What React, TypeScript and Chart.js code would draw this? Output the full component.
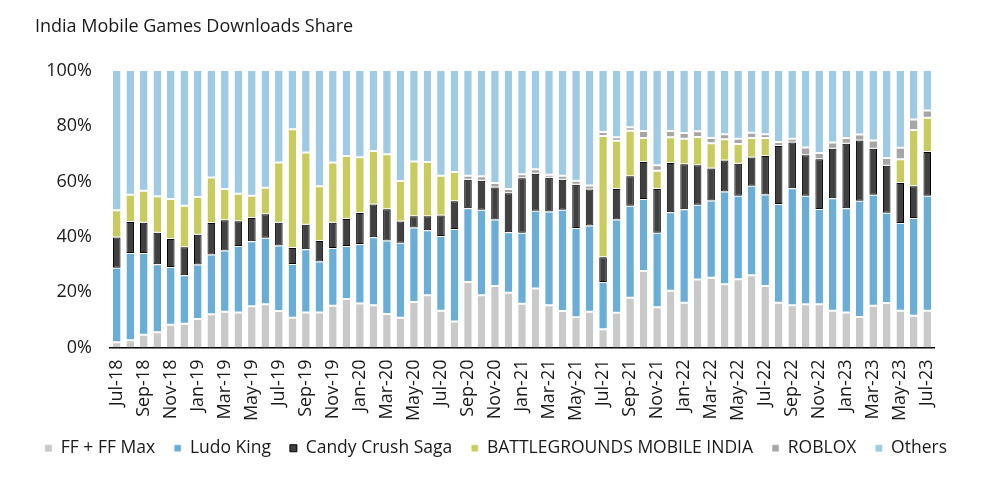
import React, { useEffect, useRef } from "react";
import { Chart, registerables } from "chart.js";
Chart.register(...registerables);

const months = [
  "Jul-18", "Aug-18", "Sep-18", "Oct-18", "Nov-18", "Dec-18",
  "Jan-19", "Feb-19", "Mar-19", "Apr-19", "May-19", "Jun-19", "Jul-19", "Aug-19", "Sep-19", "Oct-19", "Nov-19", "Dec-19",
  "Jan-20", "Feb-20", "Mar-20", "Apr-20", "May-20", "Jun-20", "Jul-20", "Aug-20", "Sep-20", "Oct-20", "Nov-20", "Dec-20",
  "Jan-21", "Feb-21", "Mar-21", "Apr-21", "May-21", "Jun-21", "Jul-21", "Aug-21", "Sep-21", "Oct-21", "Nov-21", "Dec-21",
  "Jan-22", "Feb-22", "Mar-22", "Apr-22", "May-22", "Jun-22", "Jul-22", "Aug-22", "Sep-22", "Oct-22", "Nov-22", "Dec-22",
  "Jan-23", "Feb-23", "Mar-23", "Apr-23", "May-23", "Jun-23", "Jul-23",
];

const ffShare = [
  1.9, 2.6, 4.6, 5.5, 8.2, 8.6,
  10.3, 12.0, 12.9, 12.7, 14.9, 15.6, 13.2, 10.8, 12.7, 12.7, 15.1, 17.5,
  15.9, 15.3, 12.1, 10.8, 16.5, 18.9, 13.3, 9.4, 23.7, 18.9, 22.2, 19.8,
  15.8, 21.3, 15.3, 13.2, 10.9, 12.9, 6.6, 12.6, 18.0, 27.7, 14.6, 20.5,
  16.2, 24.6, 25.2, 22.9, 24.7, 26.1, 22.2, 16.2, 15.3, 15.6, 15.6, 13.3,
  12.7, 11.0, 15.1, 16.1, 13.3, 11.5, 13.3,
];

const ludoShare = [
  26.9, 31.6, 29.6, 24.6, 20.9, 17.5,
  19.7, 21.6, 22.2, 24.0, 23.5, 24.1, 23.7, 19.4, 22.8, 18.4, 20.9, 19.2,
  21.5, 24.6, 26.6, 27.1, 26.9, 23.5, 27.0, 33.5, 26.7, 30.9, 24.1, 21.9,
  25.7, 28.2, 33.9, 36.6, 32.3, 31.2, 17.1, 33.7, 33.3, 26.0, 26.9, 28.4,
  33.8, 27.0, 28.0, 33.5, 30.2, 32.4, 33.1, 35.7, 42.3, 39.3, 34.5, 40.7,
  37.7, 42.1, 40.1, 32.6, 31.7, 35.3, 41.6,
];

const candyShare = [
  11.0, 11.2, 10.9, 11.4, 10.1, 10.2,
  10.8, 11.4, 10.9, 9.0, 8.4, 8.5, 8.2, 5.8, 8.9, 7.4, 9.1, 9.8,
  11.2, 11.8, 11.3, 7.7, 4.1, 5.1, 7.4, 10.0, 10.3, 10.5, 11.6, 14.1,
  19.7, 13.3, 12.2, 10.9, 15.7, 13.0, 8.9, 11.0, 10.6, 13.4, 15.8, 17.8,
  16.3, 14.3, 11.5, 11.2, 11.6, 10.2, 14.0, 21.0, 16.5, 14.6, 18.0, 17.9,
  23.3, 21.8, 16.7, 17.0, 14.5, 11.5, 15.8,
];

const bgmiShare = [
  9.8, 9.8, 11.6, 13.2, 14.5, 15.0,
  13.6, 16.5, 11.3, 9.9, 8.1, 9.6, 21.8, 42.9, 26.1, 19.8, 21.8, 22.8,
  20.2, 19.4, 19.9, 14.6, 19.8, 19.6, 14.4, 10.6, 0, 0, 0, 0,
  0, 0, 0, 0, 0, 0, 43.9, 17.5, 16.5, 8.7, 6.6, 9.3,
  9.2, 10.2, 9.2, 7.7, 7.1, 7.1, 6.5, 0, 0, 0, 0, 0,
  0, 0, 0, 0, 8.6, 20.4, 12.4,
];

const robloxShare = [
  0, 0, 0, 0, 0, 0,
  0, 0, 0, 0, 0, 0, 0, 0, 0, 0, 0, 0,
  0, 0, 0, 0, 0, 0, 0, 0, 1.4, 1.6, 1.6, 1.5,
  1.5, 1.7, 1.1, 1.4, 1.4, 1.5, 1.4, 1.2, 1.3, 2.5, 2.0, 2.3,
  2.1, 2.1, 1.9, 1.8, 1.9, 1.9, 1.3, 1.4, 1.4, 2.8, 2.2, 2.2,
  2.1, 2.1, 3.0, 2.8, 4.1, 3.8, 2.6,
];

const othersShare = [
  50.4, 44.8, 43.3, 45.3, 46.3, 48.7,
  45.6, 38.5, 42.7, 44.4, 45.1, 42.2, 33.1, 21.1, 29.5, 41.7, 33.1, 30.7,
  31.2, 28.9, 30.1, 39.8, 32.7, 32.9, 37.9, 36.5, 37.9, 38.1, 40.5, 42.7,
  37.3, 35.5, 37.5, 37.9, 39.7, 41.4, 22.1, 24.0, 20.3, 21.7, 34.1, 21.7,
  22.4, 21.8, 24.2, 22.9, 24.5, 22.3, 22.9, 25.7, 24.5, 27.7, 29.7, 25.9,
  24.2, 23.0, 25.1, 31.5, 27.8, 17.5, 14.3,
];

const yTicks = [0, 20, 40, 60, 80, 100];

const TITLE = "India Mobile Games Downloads Share";
const FONT = "'Open Sans', 'Noto Sans', sans-serif";

export default function App() {
  const ref = useRef<HTMLCanvasElement>(null);

  useEffect(() => {
    const white = "#ffffff";
    const gap = { top: 1, bottom: 1, left: 0, right: 0 };
    const chart = new Chart(ref.current!, {
      type: "bar",
      data: {
        labels: months,
        datasets: [
          { label: "FF + FF Max", data: ffShare, backgroundColor: "#c9c9c9", borderColor: white, borderWidth: { top: 1, bottom: 0, left: 0, right: 0 }, borderSkipped: false },
          { label: "Ludo King", data: ludoShare, backgroundColor: "#6aaed8", borderColor: white, borderWidth: gap, borderSkipped: false },
          { label: "Candy Crush Saga", data: candyShare, backgroundColor: "#404040", borderColor: "#000000", borderWidth: 1, borderSkipped: false },
          { label: "BATTLEGROUNDS MOBILE INDIA", data: bgmiShare, backgroundColor: "#c8cc5e", borderColor: white, borderWidth: gap, borderSkipped: false },
          { label: "ROBLOX", data: robloxShare, backgroundColor: "#a6a6a6", borderColor: white, borderWidth: gap, borderSkipped: false },
          { label: "Others", data: othersShare, backgroundColor: "#9fcae3", borderColor: white, borderWidth: { top: 0, bottom: 1, left: 0, right: 0 }, borderSkipped: false },
        ] as any,
      },
      options: {
        animation: false,
        responsive: true,
        maintainAspectRatio: false,
        datasets: { bar: { barPercentage: 0.56, categoryPercentage: 1 } } as any,
        layout: { padding: { left: 11, right: 19, top: 71, bottom: 12 } },
        scales: {
          x: {
            stacked: true,
            grid: { display: false, drawTicks: false },
            border: { display: true, color: "#000000", width: 1.5 },
            afterFit: (s: any) => { s.height = 73; },
            ticks: {
              autoSkip: false,
              maxRotation: 90,
              minRotation: 90,
              padding: 12,
              color: "#1a1a1a",
              font: { family: FONT, size: 18 },
              callback: (_v: any, i: number) => (i % 2 === 0 ? months[i] : ""),
            },
          },
          y: {
            stacked: true,
            min: 0,
            max: 100,
            grid: { display: false, drawTicks: false },
            border: { display: false },
            afterFit: (s: any) => { s.width = 99; },
            afterBuildTicks: (s: any) => { s.ticks = yTicks.map((v) => ({ value: v })); },
            ticks: {
              padding: 18,
              color: "#1a1a1a",
              font: { family: FONT, size: 18 },
              callback: (v: any) => `${v}%`,
            },
          },
          yRight: {
            position: "right",
            display: true,
            min: 0,
            max: 100,
            grid: { display: false, drawTicks: false },
            border: { display: false },
            ticks: { display: false },
            afterFit: (s: any) => { s.width = 47; },
          },
        },
        plugins: {
          legend: {
            position: "bottom",
            labels: {
              boxWidth: 7,
              boxHeight: 7,
              padding: 19,
              color: "#1a1a1a",
              font: { family: FONT, size: 17.5 },
            },
          },
          tooltip: { enabled: false },
        },
      },
    });
    return () => chart.destroy();
  }, []);

  return (
    <div style={{ position: "fixed", left: 0, top: 0, width: 1000, height: 479, background: "#ffffff" }}>
      <div
        style={{
          position: "absolute",
          left: 35,
          top: 16,
          fontFamily: FONT,
          fontSize: 18,
          lineHeight: "18px",
          color: "#1a1a1a",
          whiteSpace: "nowrap",
        }}
      >
        {TITLE}
      </div>
      <canvas ref={ref} />
    </div>
  );
}
